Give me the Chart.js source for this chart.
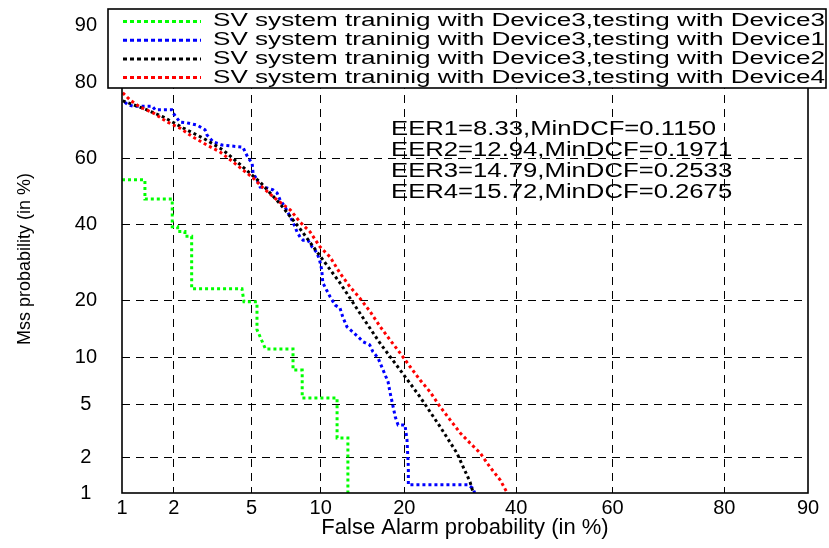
<!DOCTYPE html>
<html>
<head>
<meta charset="utf-8">
<script src="https://cdn.jsdelivr.net/npm/chart.js@4.4.0/dist/chart.umd.min.js"></script>
<style>
	html, body { margin: 0; padding: 0; background: #fff; }
</style>
</head>
<body>
<canvas id="det" width="829" height="548"></canvas>
<script>
// DET curves, values in percent
const tickValues = [1, 2, 5, 10, 20, 40, 60, 80, 90];
const tickLabels = ["1", "2", "5", "10", "20", "40", "60", "80", "90"];

const seriesLabels = [
	"SV system traninig with Device3,testing with Device3",
	"SV system traninig with Device3,testing with Device1",
	"SV system traninig with Device3,testing with Device2",
	"SV system traninig with Device3,testing with Device4"
];
const seriesColors = ["#00ff00", "#0000ff", "#000000", "#ff0000"];

const eerLines = [
	"EER1=8.33,MinDCF=0.1150",
	"EER2=12.94,MinDCF=0.1971",
	"EER3=14.79,MinDCF=0.2533",
	"EER4=15.72,MinDCF=0.2675"
];

const dev3FA = [1.0, 1.37, 1.37, 1.96, 1.96, 2.1, 2.1, 2.3, 2.3, 2.5, 2.5, 4.5, 4.6, 5.3, 5.3, 5.8, 7.68, 7.68, 8.4, 8.4, 11.6, 11.6, 12.75, 12.75];
const dev3Miss = [53.5, 53.5, 47.6, 47.6, 39.2, 39.2, 37.8, 37.8, 36.4, 36.4, 22.6, 22.6, 19.7, 19.7, 14.3, 11.2, 11.2, 8.4, 8.4, 5.55, 5.55, 2.86, 2.86, 1.0];

const dev1FA = [1.04, 1.09, 1.17, 1.51, 1.57, 1.95, 1.98, 2.16, 2.36, 2.67, 2.94, 3.01, 3.24, 3.59, 4.55, 4.66, 4.82, 5.03, 5.08, 5.30,
	5.48, 5.90, 6.28, 6.54, 6.75, 7.09, 7.31, 7.68, 7.99, 8.23, 8.47, 8.88, 9.23, 9.68, 9.94, 10.1, 10.2, 10.9, 11.4, 11.9,
	12.2, 12.65, 13.3, 13.9, 14.5, 15.3, 15.7, 16.35, 16.9, 17.7, 17.95, 18.25, 18.7, 19.1, 20.1, 20.4, 20.6, 20.6, 21.3, 30.6, 31.4, 31.9];
const dev1Miss = [75.4, 74.7, 74.4, 74.4, 73.5, 73.5, 72.7, 70.3, 70.1, 69.5, 68.2, 66.8, 64.8, 63.9, 63.3, 61.9, 60.1, 58.6, 55.6, 53.5,
	51.3, 51.0, 50.4, 49.5, 47.3, 45.2, 43.4, 40.6, 37.7, 36.2, 35.3, 35.3, 33.4, 31.7, 29.3, 27.2, 24.0, 20.8, 19.0, 18.4,
	16.6, 14.8, 13.9, 13.1, 12.3, 11.8, 10.8, 9.94, 8.67, 7.08, 6.10, 5.22, 4.09, 3.58, 3.58, 2.76, 1.67, 1.18, 1.18, 1.18, 1.11, 1.0];

const dev2FA = [1.01, 1.33, 1.74, 2.25, 2.87, 3.63, 4.55, 5.48, 6.75, 8.23, 9.94, 11.9, 14.1, 16.6, 19.4, 22.4, 25.7, 28.6, 31.0, 31.6];
const dev2Miss = [75.7, 73.9, 71.7, 68.7, 65.9, 62.5, 57.4, 52.8, 46.1, 38.6, 30.9, 24.0, 17.4, 12.1, 8.4, 5.64, 3.46, 2.18, 1.25, 1.0];

const dev4FA = [1.01, 1.12, 1.28, 1.53, 1.84, 2.16, 2.54, 3.01, 3.51, 4.08, 4.55, 5.08, 5.66, 6.54, 7.47, 8.23, 9.06, 9.94, 10.9,
	11.9, 13.0, 14.1, 15.3, 16.6, 17.95, 19.4, 20.9, 22.4, 24.0, 25.7, 27.4, 29.2, 31.0, 32.9, 34.8, 36.8, 38.2];
const dev4Miss = [77.6, 75.9, 74.2, 72.7, 70.3, 68.7, 66.2, 63.9, 61.9, 58.9, 56.5, 54.1, 51.0, 47.3, 44.3, 40.6, 37.7, 33.4, 30.6,
	26.4, 23.0, 20.5, 17.8, 14.9, 12.6, 10.6, 8.77, 7.28, 6.10, 4.82, 3.90, 3.12, 2.61, 2.18, 1.67, 1.30, 1.0];

// inverse normal cdf (Acklam), used for the probit-warped DET axes
function probit(p) {
	const a = [-3.969683028665376e+01, 2.209460984245205e+02, -2.759285104469687e+02, 1.383577518672690e+02, -3.066479806614716e+01, 2.506628277459239e+00];
	const b = [-5.447609879822406e+01, 1.615858368580409e+02, -1.556989798598866e+02, 6.680131188771972e+01, -1.328068155288572e+01];
	const c = [-7.784894002430293e-03, -3.223964580411365e-01, -2.400758277161838e+00, -2.549732539343734e+00, 4.374664141464968e+00, 2.938163982698783e+00];
	const d = [7.784695709041462e-03, 3.224671290700398e-01, 2.445134137142996e+00, 3.754408661907416e+00];
	const pl = 0.02425;
	let q, r;
	if (p < pl) {
		q = Math.sqrt(-2 * Math.log(p));
		return (((((c[0]*q + c[1])*q + c[2])*q + c[3])*q + c[4])*q + c[5]) / ((((d[0]*q + d[1])*q + d[2])*q + d[3])*q + 1);
	}
	if (p > 1 - pl) {
		q = Math.sqrt(-2 * Math.log(1 - p));
		return -(((((c[0]*q + c[1])*q + c[2])*q + c[3])*q + c[4])*q + c[5]) / ((((d[0]*q + d[1])*q + d[2])*q + d[3])*q + 1);
	}
	q = p - 0.5;
	r = q * q;
	return (((((a[0]*r + a[1])*r + a[2])*r + a[3])*r + a[4])*r + a[5])*q / (((((b[0]*r + b[1])*r + b[2])*r + b[3])*r + b[4])*r + 1);
}

const toPoints = (fa, miss) => fa.map((v, i) => ({ x: probit(v / 100), y: probit(miss[i] / 100) }));

const seriesData = [
	toPoints(dev3FA, dev3Miss),
	toPoints(dev1FA, dev1Miss),
	toPoints(dev2FA, dev2Miss),
	toPoints(dev4FA, dev4Miss)
];

const FONT = "'Liberation Sans', Arial, sans-serif";
const DOTS = [3, 3];

function makeAxis(titleText, isX) {
	return {
		type: "linear",
		min: probit(tickValues[0] / 100),
		max: probit(tickValues[tickValues.length - 1] / 100),
		afterBuildTicks: s => { s.ticks = tickValues.map(v => ({ value: probit(v / 100) })); },
		afterFit: s => {
			if (isX) {
				s.height = 55;
			} else {
				s.width = 122;
				// keep the big label padding from pushing the plot top down
				s.paddingTop = 0;
				s.paddingBottom = 0;
			}
		},
		border: { display: false, dash: [8, 6] },
		grid: {
			drawTicks: false,
			lineWidth: 1,
			color: ctx => (ctx.index === 0 || ctx.index === tickValues.length - 1) ? "rgba(0,0,0,0)" : "#000"
		},
		ticks: {
			autoSkip: false,
			maxRotation: 0,
			color: "#000",
			font: { family: FONT, size: 20 },
			padding: isX ? 3 : 25,
			crossAlign: isX ? "near" : "center",
			callback: (v, i) => tickLabels[i]
		},
		title: {
			display: true,
			text: titleText,
			color: "#000",
			font: { family: FONT, size: isX ? 22 : 18 },
			padding: isX ? { top: 0, bottom: 7 } : { top: 14, bottom: 0 }
		}
	};
}

const framePlugin = {
	id: "frame",
	afterDatasetsDraw(chart) {
		const { ctx, chartArea: a } = chart;
		ctx.save();
		ctx.strokeStyle = "#000";
		ctx.lineWidth = 1.6;
		ctx.setLineDash([]);
		ctx.strokeRect(a.left, a.top, a.right - a.left, a.bottom - a.top);
		ctx.restore();
	}
};

const boxLegendPlugin = {
	id: "boxLegend",
	afterDraw(chart) {
		const ctx = chart.ctx;
		ctx.save();
		// legend box
		ctx.fillStyle = "#fff";
		ctx.fillRect(108, 9, 718, 79);
		ctx.strokeStyle = "#000";
		ctx.lineWidth = 1.6;
		ctx.strokeRect(108, 9, 718, 79);

		ctx.font = "18px " + FONT;
		ctx.textBaseline = "middle";
		const sx = 612 / ctx.measureText(seriesLabels[0]).width;
		seriesLabels.forEach((label, i) => {
			const y = 21.5 + i * 18.7;
			ctx.strokeStyle = seriesColors[i];
			ctx.lineWidth = 3;
			ctx.setLineDash([4, 3]);
			ctx.beginPath();
			ctx.moveTo(123, y);
			ctx.lineTo(201, y);
			ctx.stroke();
			ctx.setLineDash([]);
			ctx.fillStyle = "#000";
			ctx.save();
			ctx.translate(213, y);
			ctx.scale(sx, 1);
			ctx.fillText(label, 0, 0);
			ctx.restore();
		});

		// EER / MinDCF annotation
		ctx.font = "20px " + FONT;
		const ex = 325 / ctx.measureText(eerLines[0]).width;
		eerLines.forEach((t, i) => {
			ctx.save();
			ctx.translate(391, 129 + i * 21);
			ctx.scale(ex, 1);
			ctx.fillText(t, 0, 0);
			ctx.restore();
		});
		ctx.restore();
	}
};

new Chart(document.getElementById("det"), {
	type: "scatter",
	data: {
		datasets: seriesData.map((pts, i) => ({
			label: seriesLabels[i],
			data: pts,
			showLine: true,
			borderColor: seriesColors[i],
			backgroundColor: seriesColors[i],
			borderWidth: 3,
			borderDash: DOTS,
			pointRadius: 0,
			tension: 0,
			order: 4 - i
		}))
	},
	options: {
		responsive: false,
		animation: false,
		layout: { padding: { top: 25, right: 21, left: 0, bottom: 0 } },
		plugins: {
			legend: { display: false },
			tooltip: { enabled: false }
		},
		scales: {
			x: makeAxis("False Alarm probability (in %)", true),
			y: makeAxis("Mss probability (in %)", false)
		}
	},
	plugins: [framePlugin, boxLegendPlugin]
});
</script>
</body>
</html>
